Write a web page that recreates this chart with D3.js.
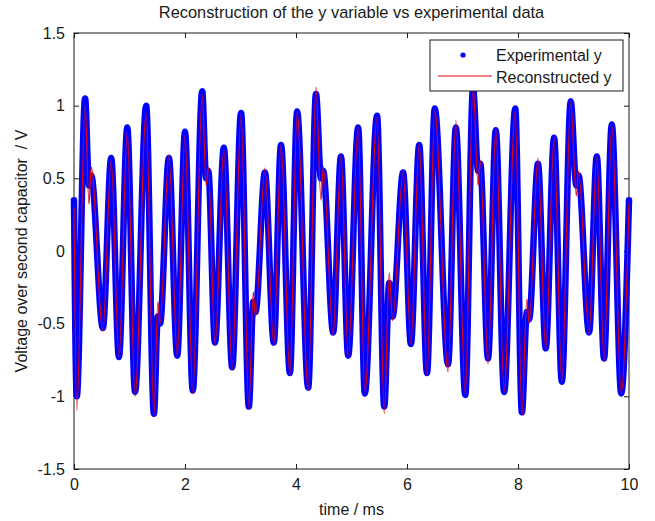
<!DOCTYPE html>
<html><head><meta charset="utf-8">
<script src="https://cdn.jsdelivr.net/npm/d3@7"></script>
<style>
body{margin:0;background:#fff}
svg{display:block}
text{font-family:"Liberation Sans",Arial,Helvetica,sans-serif;fill:#1a1a1a}
</style></head>
<body><svg id="chart" width="655" height="521"></svg>
<script>
// time (ms) of sampled turning points of the signal
const times = [0.00,0.05,0.20,0.27,0.31,0.52,0.67,0.81,0.96,1.10,1.30,1.44,1.51,1.55,1.71,1.86,2.00,2.14,2.31,2.38,2.42,2.54,2.70,2.85,3.01,3.15,3.23,3.27,3.44,3.60,3.73,3.89,4.02,4.22,4.36,4.45,4.49,4.67,4.81,4.94,5.12,5.24,5.46,5.59,5.68,5.74,5.93,6.07,6.22,6.36,6.50,6.74,6.88,7.05,7.19,7.28,7.32,7.46,7.60,7.75,7.95,8.07,8.16,8.20,8.36,8.50,8.65,8.79,8.95,9.05,9.09,9.28,9.42,9.55,9.69,9.86,10.00];
// experimental y (V)
const experimentalY = [0.35,-1.00,1.05,0.45,0.52,-0.53,0.64,-0.73,0.85,-0.97,1.00,-1.12,-0.45,-0.50,0.64,-0.72,0.82,-0.96,1.10,0.50,0.55,-0.63,0.71,-0.80,0.95,-1.07,-0.35,-0.42,0.54,-0.63,0.73,-0.84,0.96,-0.94,1.08,0.50,0.55,-0.56,0.65,-0.72,0.85,-0.98,0.93,-1.07,-0.22,-0.45,0.54,-0.64,0.73,-0.84,0.98,-0.78,0.85,-0.99,1.12,0.55,0.60,-0.74,0.83,-0.97,0.98,-1.11,-0.42,-0.47,0.60,-0.67,0.78,-0.90,1.03,0.45,0.52,-0.56,0.65,-0.74,0.87,-0.98,0.35];
// reconstructed y (V)
const reconstructedY = [0.30,-1.10,1.00,0.32,0.58,-0.55,0.62,-0.73,0.82,-1.00,0.95,-1.13,-0.35,-0.50,0.66,-0.72,0.80,-0.98,1.08,0.45,0.58,-0.65,0.70,-0.82,0.94,-1.08,-0.28,-0.45,0.57,-0.65,0.73,-0.86,0.96,-0.96,1.13,0.35,0.58,-0.58,0.66,-0.72,0.85,-0.98,0.92,-1.12,-0.15,-0.48,0.55,-0.64,0.74,-0.85,0.97,-0.83,0.90,-0.99,1.15,0.45,0.62,-0.78,0.84,-0.97,0.96,-1.13,-0.33,-0.50,0.64,-0.68,0.78,-0.90,1.03,0.38,0.55,-0.57,0.65,-0.76,0.87,-0.98,0.33];
const xTicks = [0,2,4,6,8,10];
const yTicks = [-1.5,-1,-0.5,0,0.5,1,1.5];
const yTickLabels = ["-1.5","-1","-0.5","0","0.5","1","1.5"];
const seriesNames = ["Experimental y","Reconstructed y"];
const titleText = "Reconstruction of the y variable vs experimental data";
const xLabelText = "time / ms";
const yLabelText = "Voltage over second capacitor  / V";

const svg = d3.select("#chart");
const L=74,R=629,T=33,B=469;
const x = d3.scaleLinear().domain([0,10]).range([L,R]);
const y = d3.scaleLinear().domain([-1.5,1.5]).range([B,T]);
const axisColor="#1a1a1a";

const expData = times.map((t,i)=>[t,experimentalY[i]]);
const recData = times.map((t,i)=>[t,reconstructedY[i]]);
const line = d3.line().x(d=>x(d[0])).y(d=>y(d[1])).curve(d3.curveMonotoneX);

// axes box
svg.append("rect").attr("x",L).attr("y",T).attr("width",R-L).attr("height",B-T)
  .attr("fill","none").attr("stroke",axisColor).attr("stroke-width",1);

// ticks
function styleAxis(g){
  g.select(".domain").remove();
  g.selectAll(".tick line").attr("stroke",axisColor);
  g.selectAll(".tick text").attr("font-size",16).style("font-family","'Liberation Sans',Arial,sans-serif").attr("fill","#1a1a1a");
}
svg.append("g").attr("transform",`translate(0,${B})`)
  .call(d3.axisBottom(x).tickValues(xTicks).tickSizeInner(-5).tickSizeOuter(0).tickPadding(8).tickFormat(d3.format("d")))
  .call(styleAxis).call(g=>g.selectAll(".tick text").attr("dy","0.75em").attr("y",9));
svg.append("g").attr("transform",`translate(0,${T})`)
  .call(d3.axisTop(x).tickValues(xTicks).tickSizeInner(-5).tickSizeOuter(0).tickFormat(""))
  .call(styleAxis);
svg.append("g").attr("transform",`translate(${L},0)`)
  .call(d3.axisLeft(y).tickValues(yTicks).tickSizeInner(-5).tickSizeOuter(0).tickPadding(9).tickFormat((d,i)=>yTickLabels[i]))
  .call(styleAxis).call(g=>g.selectAll(".tick text").attr("x",-9));
svg.append("g").attr("transform",`translate(${R},0)`)
  .call(d3.axisRight(y).tickValues(yTicks).tickSizeInner(-5).tickSizeOuter(0).tickFormat(""))
  .call(styleAxis);

// data
svg.append("path").datum(expData).attr("d",line).attr("fill","none")
  .attr("stroke","#0000ff").attr("stroke-width",6.5).attr("stroke-linejoin","round").attr("stroke-linecap","round");
svg.append("path").datum(recData).attr("d",line).attr("fill","none")
  .attr("stroke","#e8000b").attr("stroke-width",1.1).attr("stroke-linejoin","round");

// title & labels
svg.append("text").attr("x",(L+R)/2).attr("y",18).attr("text-anchor","middle").attr("font-size",16.4).text(titleText);
svg.append("text").attr("x",(L+R)/2).attr("y",515).attr("text-anchor","middle").attr("font-size",16).text(xLabelText);
svg.append("text").attr("transform",`translate(27,${(T+B)/2}) rotate(-90)`).attr("text-anchor","middle")
  .attr("font-size",16).attr("xml:space","preserve").style("white-space","pre").text(yLabelText);

// legend
const lg = svg.append("g");
lg.append("rect").attr("x",430).attr("y",40).attr("width",193).attr("height",51)
  .attr("fill","#fff").attr("stroke",axisColor).attr("stroke-width",1);
lg.append("circle").attr("cx",463).attr("cy",55).attr("r",2.6).attr("fill","#0000ff");
lg.append("line").attr("x1",438).attr("x2",492).attr("y1",76).attr("y2",76).attr("stroke","#e8000b").attr("stroke-width",1.1);
lg.append("text").attr("x",496).attr("y",61).attr("font-size",16).text(seriesNames[0]);
lg.append("text").attr("x",496).attr("y",83).attr("font-size",16).text(seriesNames[1]);
</script></body></html>
